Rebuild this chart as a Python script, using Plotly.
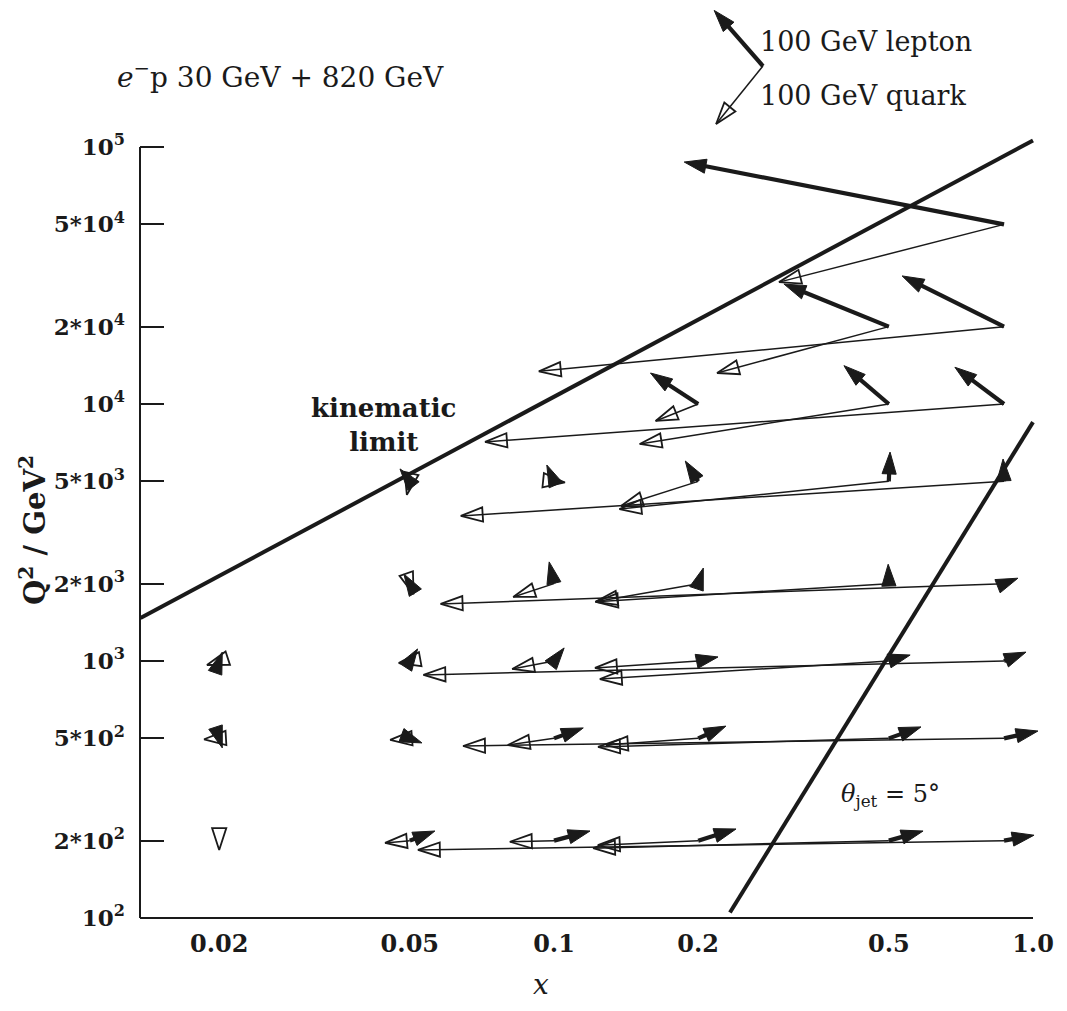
import math
import plotly.graph_objects as go

# ---------------- data ----------------
# kinematic points (x, Q^2) at which a lepton and a quark arrow start
pt_x  = [0.87,
         0.5, 0.87,
         0.2, 0.5, 0.87,
         0.05, 0.1, 0.2, 0.5, 0.87,
         0.05, 0.1, 0.2, 0.5, 0.87,
         0.02, 0.05, 0.1, 0.2, 0.5, 0.87,
         0.02, 0.05, 0.1, 0.2, 0.5, 0.87,
         0.02, 0.05, 0.1, 0.2, 0.5, 0.87]
pt_q2 = [50000,
         20000, 20000,
         10000, 10000, 10000,
         5000, 5000, 5000, 5000, 5000,
         2000, 2000, 2000, 2000, 2000,
         1000, 1000, 1000, 1000, 1000, 1000,
         500, 500, 500, 500, 500, 500,
         200, 200, 200, 200, 200, 200]
# lepton arrow tips (None = not visible)
lep_x  = [0.187,
          0.302, 0.533,
          0.159, 0.403, 0.687,
          0.0477, 0.0966, 0.188, 0.503, 0.866,
          0.0486, 0.0977, 0.205, 0.4985, 0.930,
          0.0203, 0.0519, 0.105, 0.220, 0.554, 0.967,
          0.0203, 0.0530, 0.1151, 0.2285, 0.5836, 1.024,
          None, 0.0564, 0.1189, 0.2399, 0.5895, 1.005]
lep_q2 = [87400,
          29300, 31500,
          13200, 14100, 13900,
          5590, 5790, 6000, 6500, 6110,
          2180, 2430, 2300, 2380, 2100,
          1083, 1114, 1124, 1037, 1055, 1083,
          459, 480, 549, 558, 554, 534,
          None, 218, 218, 222, 218, 210]
# quark arrow tips
qrk_x  = [0.295,
          0.219, 0.093,
          0.163, 0.151, 0.0718,
          0.0493, 0.1054, 0.138, 0.137, 0.0639,
          0.0509, 0.0822, 0.122, 0.1224, 0.058,
          0.01886, 0.0474, 0.0818, 0.1218, 0.1247, 0.0534,
          0.0186, 0.0455, 0.0801, 0.1284, 0.1236, 0.0646,
          0.02, 0.0444, 0.0809, 0.1235, 0.1207, 0.052]
qrk_q2 = [29800,
          13200, 13400,
          8590, 6990, 7120,
          4430, 4950, 4010, 3900, 3670,
          1820, 1775, 1700, 1700, 1667,
          965, 982, 931, 940, 851, 883,
          496, 493, 471, 471, 463, 467,
          184, 196, 198, 192, 187, 184]

# boundary lines
kin_x  = [0.0137, 1.0]
kin_q2 = [1470, 106000]
jet_x  = [0.233, 1.0]
jet_q2 = [105, 8500]

# scale key (100 GeV arrows)
key_x0, key_q0 = 0.273, 206500
key_lep_x, key_lep_q = 0.216, 340000
key_qrk_x, key_qrk_q = 0.218, 122900

# axes
x_tickvals = [0.02, 0.05, 0.1, 0.2, 0.5, 1.0]
x_ticktext = ["0.02", "0.05", "0.1", "0.2", "0.5", "1.0"]
y_tickvals = [100, 200, 500, 1000, 2000, 5000, 10000, 20000, 50000, 100000]
y_ticktext = ["10<sup>2</sup>", "2*10<sup>2</sup>", "5*10<sup>2</sup>",
              "10<sup>3</sup>", "2*10<sup>3</sup>", "5*10<sup>3</sup>",
              "10<sup>4</sup>", "2*10<sup>4</sup>", "5*10<sup>4</sup>",
              "10<sup>5</sup>"]

# ---------------- figure ----------------
PAGE = 8                      # browser body margin
W, H = 1067 - PAGE, 1011 - PAGE
ML, MR, MT, MB = 132, 0, 0, 93
PX_L, PX_R = PAGE + ML, PAGE + W - MR          # plot area in page pixels
PY_T, PY_B = PAGE + MT, PAGE + H - MB
PXX, PXY = 479.0, 257.0                        # pixels per decade
XR = [-1.8643, -1.8643 + (PX_R - PX_L) / PXX]
YR = [2.0, 2.0 + (PY_B - PY_T) / PXY]

INK = "#1a1a1a"
SERIF = "DejaVu Serif"

fig = go.Figure()


def plen(x0, y0, x1, y1):
    dx = (math.log10(x1) - math.log10(x0)) * PXX
    dy = (math.log10(y1) - math.log10(y0)) * PXY
    return math.hypot(dx, dy)


def arrow(x0, y0, x1, y1, kind):
    if kind == "lep":
        lw, sym, size, mlw = 4.2, "arrow", 23, 1
    else:
        lw, sym, size, mlw = 1.5, "arrow-open", 23, 1.8
    short = plen(x0, y0, x1, y1) < 22
    fig.add_trace(go.Scatter(
        x=[x0, x1], y=[y0, y1],
        mode="markers" if short else "lines+markers",
        line=dict(color=INK, width=lw),
        marker=dict(symbol=sym, size=[0, size], angleref="previous",
                    opacity=1, color=INK, line=dict(color=INK, width=mlw)),
        hoverinfo="skip", showlegend=False, cliponaxis=False))


# boundary lines
fig.add_trace(go.Scatter(x=kin_x, y=kin_q2, mode="lines",
                         line=dict(color=INK, width=4), hoverinfo="skip",
                         showlegend=False))
fig.add_trace(go.Scatter(x=jet_x, y=jet_q2, mode="lines",
                         line=dict(color=INK, width=4), hoverinfo="skip",
                         showlegend=False))

# quark arrows first, lepton arrows on top
for i in range(len(pt_x)):
    arrow(pt_x[i], pt_q2[i], qrk_x[i], qrk_q2[i], "qrk")
for i in range(len(pt_x)):
    if lep_x[i] is not None:
        arrow(pt_x[i], pt_q2[i], lep_x[i], lep_q2[i], "lep")

# key arrows
arrow(key_x0, key_q0, key_lep_x, key_lep_q, "lep")
arrow(key_x0, key_q0, key_qrk_x, key_qrk_q, "qrk")


def ptext(px, py, text, size, anchor="center", angle=0):
    fig.add_annotation(
        x=(px - PX_L) / (PX_R - PX_L), y=(PY_B - py) / (PY_B - PY_T),
        xref="paper", yref="paper", text=text, showarrow=False,
        xanchor=anchor, yanchor="middle", align="center", textangle=angle,
        font=dict(family=SERIF, size=size, color=INK))


ptext(115, 76, "<i>e</i><sup>−</sup>p 30 GeV + 820 GeV", 28, "left")
ptext(758, 42, "100 GeV lepton", 27, "left")
ptext(758, 95, "100 GeV quark", 27, "left")
ptext(383, 425, "<b>kinematic<br>limit</b>", 26)
ptext(890, 795, "<i>θ</i><sub>jet</sub> = 5°", 24)
ptext(33, 530, "<b>Q<sup>2</sup> / GeV<sup>2</sup></b>", 29, angle=-90)
ptext(541, 984, "<i>x</i>", 28)

# axis lines: y only between 10^2 and 10^5, x only up to 1.0
fig.add_shape(type="line", xref="paper", x0=0, x1=0, yref="y",
              y0=100, y1=100000, line=dict(color=INK, width=2))
fig.add_shape(type="line", xref="x", x0=10 ** XR[0], x1=1.0, yref="paper",
              y0=0, y1=0, line=dict(color=INK, width=2))

fig.update_layout(
    width=W, height=H,
    margin=dict(l=ML, r=MR, t=MT, b=MB),
    paper_bgcolor="white", plot_bgcolor="white",
    showlegend=False, hovermode=False,
    xaxis=dict(type="log", range=XR, showgrid=False, zeroline=False,
               showline=False,
               tickmode="array", tickvals=x_tickvals,
               ticktext=["<b>%s</b>" % t for t in x_ticktext],
               ticks="", ticklabelstandoff=9,
               tickfont=dict(family=SERIF, size=24, color=INK)),
    yaxis=dict(type="log", range=YR, showgrid=False, zeroline=False,
               showline=False,
               tickmode="array", tickvals=y_tickvals,
               ticktext=["<b>%s</b>" % t for t in y_ticktext],
               ticks="inside", ticklen=24, tickwidth=1.5, tickcolor=INK,
               ticklabelstandoff=14,
               tickfont=dict(family=SERIF, size=23, color=INK)),
)

fig.write_html("out.html")
